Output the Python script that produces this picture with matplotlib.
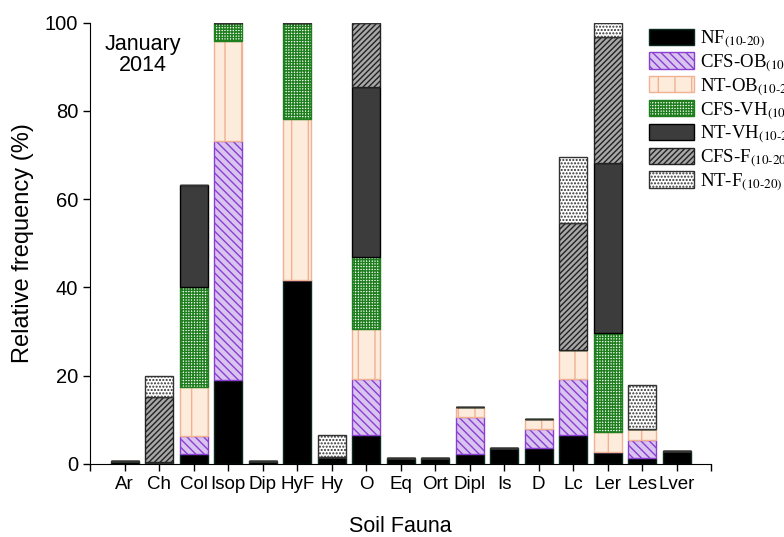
import numpy as np
import matplotlib
matplotlib.use('Agg')
import matplotlib.pyplot as plt

plt.rcParams['font.family'] = ['Liberation Sans', 'DejaVu Sans']
plt.rcParams['mathtext.fontset'] = 'stix'
plt.rcParams['hatch.linewidth'] = 1.0

# Relative frequency (%) of soil fauna groups per treatment, January 2014
taxa = ['Ar', 'Ch', 'Col', 'Isop', 'Dip', 'HyF', 'Hy', 'O', 'Eq', 'Ort',
        'Dipl', 'Is', 'D', 'Lc', 'Ler', 'Les', 'Lver']

nf     = [0.7, 0.5, 2.2, 19.0, 0.6, 41.7, 1.5, 6.5, 1.4, 1.4, 2.2, 3.6, 3.6, 6.5, 2.8, 1.4, 3.0]
cfs_ob = [0, 0, 4.1, 54.2, 0, 0, 0, 12.7, 0, 0, 8.4, 0, 4.3, 12.7, 0, 4.1, 0]
nt_ob  = [0, 0, 11.2, 22.7, 0, 36.5, 0, 11.3, 0, 0, 2.4, 0, 2.4, 6.6, 4.5, 2.4, 0]
cfs_vh = [0, 0, 22.5, 4.1, 0, 21.8, 0, 16.5, 0, 0, 0, 0, 0, 0, 22.3, 0, 0]
nt_vh  = [0, 0, 23.1, 0, 0, 0, 0, 38.5, 0, 0, 0, 0, 0, 0, 38.5, 0, 0]
cfs_f  = [0, 14.6, 0, 0, 0, 0, 0, 14.5, 0, 0, 0, 0, 0, 28.7, 28.6, 0, 0]
nt_f   = [0, 4.9, 0, 0, 0, 0, 5.0, 0, 0, 0, 0, 0, 0, 15.1, 3.3, 10.0, 0]

sub = r'$_{(10\text{-}20)}$'
series = [
    (nf,     'NF' + sub,     dict(color='black', edgecolor='#0d2a20')),
    (cfs_ob, 'CFS-OB' + sub, dict(color='#d9c4f0', edgecolor='#8a3fd0', hatch='\\\\\\\\')),
    (nt_ob,  'NT-OB' + sub,  dict(color='#fdebdc', edgecolor='#f0b293', hatch='|')),
    (cfs_vh, 'CFS-VH' + sub, dict(color='#ffffff', edgecolor='#1f7f1f', hatch='++++++')),
    (nt_vh,  'NT-VH' + sub,  dict(color='#3c3c3c', edgecolor='black')),
    (cfs_f,  'CFS-F' + sub,  dict(color='#a8a8a8', edgecolor='#222222', hatch='//////')),
    (nt_f,   'NT-F' + sub,   dict(color='white', edgecolor='#333333', hatch='.....')),
]

fig = plt.figure(figsize=(7.84, 5.37), dpi=100)
ax = fig.add_axes([0.115, 0.136, 0.792, 0.822])

x = np.arange(len(taxa))
bottom = np.zeros(len(taxa))
for vals, label, style in series:
    vals = np.array(vals, dtype=float)
    ax.bar(x, vals, 0.81, bottom=bottom, linewidth=1.0, label=label, **style)
    bottom += vals

ax.set_xlim(-1, 17)
ax.set_ylim(0, 100)
ax.set_xticks(np.arange(-1, 18))
ax.set_xticklabels([''] + taxa + [''])
ax.set_yticks([0, 20, 40, 60, 80, 100])
ax.tick_params(axis='both', direction='out', length=5, width=1, labelsize=13.5)
ax.tick_params(axis='y', labelsize=14.5)
for s in ['top', 'right']:
    ax.spines[s].set_visible(False)

ax.set_ylabel('Relative frequency (%)', fontsize=17, labelpad=8)
ax.set_xlabel('Soil Fauna', fontsize=15.5, labelpad=17)

ax.text(0.085, 0.975, 'January\n2014', transform=ax.transAxes, ha='center', va='top',
        fontsize=15.5, linespacing=1.05)

fig.legend(loc='upper left', bbox_to_anchor=(0.806, 0.978), frameon=False,
           prop={'family': 'Liberation Serif', 'size': 13.5},
           handlelength=2.4, handleheight=0.95, handletextpad=0.35, labelspacing=0.12)

fig.savefig('out.png', dpi=100)
